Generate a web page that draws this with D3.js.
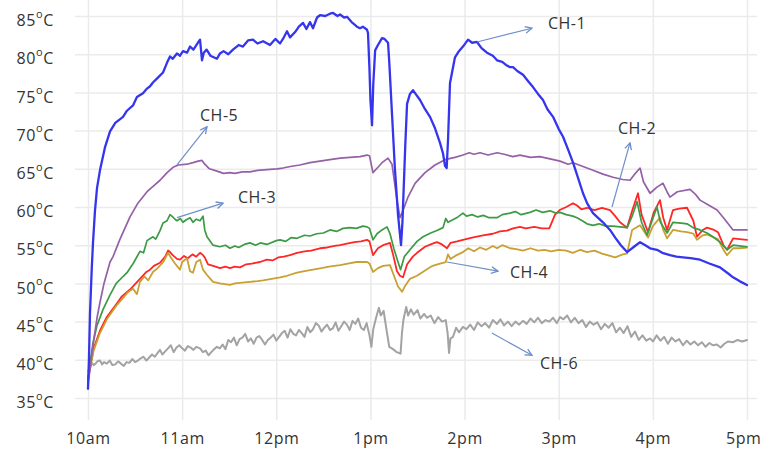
<!DOCTYPE html>
<html><head><meta charset="utf-8">
<script src="https://cdn.jsdelivr.net/npm/d3@7"></script>
<style>
html,body{margin:0;padding:0;background:#fff;}
svg{display:block;}
text{font-family:"Open Sans",sans-serif;fill:#333;}
</style></head>
<body><svg id="chart" width="762" height="451"></svg>
<script>
// ---------- data ----------
const xTickValues = [10,11,12,13,14,15,16,17];
const xTickLabels = ["10am","11am","12pm","1pm","2pm","3pm","4pm","5pm"];
const yTickValues = [35,40,45,50,55,60,65,70,75,80,85];

const ch1T = [10.000,10.010,10.021,10.040,10.053,10.074,10.096,10.127,10.180,10.234,10.290,10.372,10.414,10.478,10.520,10.584,10.627,10.659,10.690,10.740,10.797,10.840,10.871,10.900,10.945,10.977,11.009,11.052,11.084,11.120,11.168,11.190,11.211,11.230,11.260,11.300,11.370,11.402,11.440,11.490,11.540,11.600,11.646,11.700,11.753,11.800,11.860,11.933,11.990,12.040,12.071,12.114,12.146,12.200,12.240,12.284,12.320,12.358,12.390,12.433,12.464,12.520,12.571,12.603,12.650,12.677,12.720,12.751,12.800,12.857,12.889,12.920,12.964,12.974,12.990,13.000,13.017,13.030,13.050,13.080,13.123,13.150,13.187,13.200,13.230,13.260,13.293,13.325,13.340,13.370,13.389,13.420,13.452,13.480,13.527,13.580,13.633,13.686,13.739,13.771,13.792,13.810,13.825,13.845,13.898,13.940,13.983,14.037,14.080,14.132,14.180,14.238,14.300,14.345,14.400,14.440,14.483,14.515,14.560,14.621,14.680,14.727,14.780,14.833,14.880,14.940,15.000,15.046,15.100,15.152,15.200,15.258,15.301,15.364,15.407,15.470,15.545,15.600,15.660,15.726,15.800,15.864,15.920,15.970,16.044,16.100,16.182,16.250,16.320,16.400,16.501,16.600,16.713,16.800,16.852,16.920,17.000];
const ch1V = [36.2,40,46,52,55.3,59.5,62.5,64.8,67.8,69.9,71.0,71.8,72.6,73.3,74.4,74.9,75.5,75.8,76.3,76.9,77.6,78.9,79.7,79.4,80.1,79.8,80.4,80.2,81.0,80.6,81.5,81.9,79.2,80.2,80.6,79.8,79.4,80.1,80.4,80.0,80.6,81.2,81.0,81.8,81.9,81.4,81.7,81.2,82.0,81.4,82.0,83.0,82.2,82.9,83.6,84.1,83.3,84.2,83.4,84.8,85.1,85.0,85.3,85.4,85.0,85.2,84.8,84.9,84.2,83.6,83.4,83.6,83.2,82.8,78,74,70.7,76,80.5,81.2,82.1,82.0,81.5,79,72,65,59,55.0,58,68,73.5,74.8,75.3,74.8,74.0,72.8,71.8,70.3,68.4,67.0,65.4,65.1,69,76.2,79.6,80.4,81.0,81.9,81.5,81.6,80.8,80.2,79.8,79.2,79.0,78.6,78.3,78.3,77.8,77.3,76.4,75.7,74.8,74.0,72.8,71.8,70.2,69.2,67.5,65.8,64.0,61.8,60.5,59.2,58.7,58.0,57.0,56.0,55.0,54.1,54.8,55.4,55.0,54.6,54.4,54.0,53.7,53.5,53.4,53.3,53.1,52.6,52.1,51.3,50.8,50.3,49.8];

const ch5T = [10.000,10.021,10.060,10.096,10.127,10.170,10.234,10.266,10.340,10.446,10.530,10.627,10.700,10.765,10.840,10.903,10.960,11.052,11.115,11.170,11.211,11.240,11.290,11.370,11.440,11.508,11.560,11.640,11.721,11.800,11.900,12.008,12.071,12.150,12.250,12.358,12.464,12.570,12.680,12.783,12.889,12.964,12.990,13.027,13.080,13.123,13.187,13.229,13.282,13.314,13.345,13.399,13.474,13.580,13.686,13.792,13.898,13.983,14.050,14.100,14.164,14.250,14.345,14.420,14.515,14.589,14.700,14.800,14.908,15.014,15.100,15.152,15.258,15.364,15.470,15.577,15.680,15.757,15.800,15.864,15.900,15.970,16.044,16.108,16.150,16.182,16.260,16.395,16.450,16.501,16.600,16.682,16.750,16.852,16.920,17.000];
const ch5V = [36.8,38.7,42.5,45.5,47.5,50.0,52.8,53.5,55.8,58.7,60.5,62.0,62.8,63.5,64.5,65.2,65.5,65.6,65.8,66.0,66.1,65.6,65.0,64.7,64.4,64.5,64.4,64.6,64.6,64.8,64.9,65.0,65.1,65.3,65.5,65.8,66.0,66.2,66.4,66.5,66.6,66.8,66.7,64.5,65.2,65.8,66.4,65.6,60.9,58.6,59.5,61.3,63.1,64.5,65.5,66.2,66.5,66.8,67.1,66.9,67.1,66.8,67.1,66.9,66.6,66.8,66.5,66.6,66.3,66.0,65.6,65.8,65.3,64.8,64.3,63.9,63.6,63.5,64.2,65.1,63.3,61.8,62.6,63.1,62.0,61.3,62.0,62.3,61.7,60.9,60.2,59.6,58.6,57.0,57.0,57.0];

const ch3T = [10.000,10.021,10.053,10.096,10.160,10.234,10.300,10.372,10.414,10.480,10.552,10.590,10.627,10.690,10.720,10.765,10.797,10.840,10.871,10.900,10.924,10.945,10.980,11.009,11.040,11.084,11.115,11.150,11.190,11.222,11.240,11.264,11.328,11.400,11.460,11.508,11.560,11.600,11.660,11.721,11.780,11.830,11.900,12.000,12.040,12.100,12.160,12.220,12.300,12.358,12.430,12.500,12.571,12.640,12.709,12.780,12.850,12.920,12.964,12.990,13.027,13.070,13.123,13.176,13.208,13.250,13.293,13.320,13.360,13.420,13.495,13.559,13.640,13.700,13.771,13.800,13.824,13.870,13.930,13.983,14.020,14.080,14.140,14.200,14.260,14.345,14.400,14.483,14.540,14.600,14.695,14.760,14.830,14.908,14.970,15.014,15.080,15.150,15.194,15.250,15.301,15.364,15.430,15.500,15.577,15.651,15.726,15.780,15.832,15.880,15.938,16.000,16.044,16.080,16.151,16.214,16.300,16.363,16.427,16.500,16.575,16.650,16.713,16.788,16.852,16.920,17.000];
const ch3V = [37.5,39.5,42.2,44.5,46.6,48.5,50.0,50.9,51.4,52.6,54.2,54.0,55.6,56.1,55.8,56.9,57.9,58.2,59.0,58.7,58.4,58.2,58.5,58.0,58.3,58.6,58.0,58.4,58.2,58.8,57.0,56.1,55.0,54.8,55.0,54.6,54.9,54.7,55.1,55.3,55.0,55.3,55.1,55.6,55.7,55.5,56.0,55.9,56.3,56.2,56.5,56.6,57.0,56.8,57.2,57.3,57.2,57.5,57.4,57.2,55.7,56.5,57.0,57.4,56.5,54.5,52.8,51.8,53.5,54.4,55.5,56.1,56.6,56.9,57.3,58.5,58.0,58.3,58.7,59.2,58.8,59.0,58.7,58.9,58.6,58.6,59.0,59.2,59.4,59.0,59.3,59.6,59.3,59.5,59.2,59.3,59.0,58.8,58.6,58.2,57.8,57.6,57.8,57.5,57.5,57.4,57.3,58.8,60.7,58.0,56.3,58.5,60.0,58.0,56.6,58.0,57.9,57.8,57.3,57.0,56.6,56.0,55.4,54.4,55.0,54.9,54.8];

const ch2T = [10.000,10.021,10.060,10.127,10.200,10.308,10.360,10.446,10.478,10.552,10.620,10.659,10.700,10.765,10.820,10.850,10.871,10.900,10.945,10.977,11.020,11.060,11.110,11.150,11.190,11.222,11.240,11.275,11.330,11.402,11.460,11.508,11.560,11.615,11.680,11.740,11.827,11.900,11.960,12.020,12.080,12.146,12.220,12.300,12.370,12.464,12.540,12.620,12.677,12.750,12.830,12.900,12.964,12.990,13.027,13.080,13.134,13.208,13.240,13.282,13.314,13.346,13.390,13.450,13.495,13.580,13.660,13.707,13.760,13.813,13.850,13.920,13.983,14.080,14.196,14.300,14.376,14.450,14.515,14.589,14.650,14.740,14.820,14.900,14.961,15.010,15.080,15.152,15.194,15.240,15.301,15.380,15.460,15.545,15.600,15.651,15.726,15.780,15.842,15.880,15.949,16.010,16.076,16.110,16.151,16.214,16.280,16.363,16.430,16.469,16.530,16.575,16.650,16.692,16.750,16.788,16.852,16.920,17.000];
const ch2V = [37.5,39.0,41.5,43.8,45.6,47.4,48.3,49.2,49.6,50.6,51.5,51.8,52.3,52.7,53.5,54.3,54.1,53.7,53.2,53.1,53.6,53.3,53.8,53.5,54.0,53.7,53.4,52.5,52.3,52.0,52.2,52.0,52.2,52.1,52.5,52.6,52.8,53.1,53.0,53.4,53.5,53.7,54.0,54.2,54.3,54.6,54.7,54.9,55.0,55.2,55.4,55.5,55.7,55.5,53.7,54.6,55.0,55.3,53.8,51.6,51.0,50.8,52.5,53.5,54.0,54.8,55.2,55.4,55.1,54.6,55.3,55.5,55.7,56.0,56.3,56.5,56.8,56.9,57.2,57.4,57.2,57.4,57.2,57.2,59.0,59.6,60.0,60.5,60.2,59.7,59.9,59.6,59.9,59.6,58.8,58.0,57.3,59.5,61.8,59.0,56.7,59.3,60.9,58.6,57.0,59.6,59.8,59.9,58.2,56.1,57.0,57.3,57.0,56.7,55.0,54.4,55.9,55.8,55.7];

const ch4T = [10.000,10.021,10.060,10.127,10.200,10.308,10.360,10.420,10.478,10.520,10.552,10.600,10.640,10.690,10.740,10.800,10.850,10.880,10.924,10.977,11.000,11.052,11.084,11.115,11.150,11.190,11.222,11.264,11.300,11.328,11.400,11.508,11.560,11.640,11.721,11.800,11.859,11.950,12.040,12.114,12.220,12.300,12.390,12.480,12.560,12.677,12.760,12.850,12.964,12.990,13.027,13.080,13.134,13.208,13.250,13.293,13.336,13.370,13.420,13.495,13.580,13.660,13.739,13.800,13.824,13.850,13.900,13.983,14.040,14.100,14.164,14.230,14.300,14.345,14.400,14.483,14.550,14.620,14.700,14.780,14.850,14.920,15.000,15.080,15.150,15.230,15.300,15.380,15.460,15.545,15.600,15.680,15.726,15.780,15.864,15.949,16.000,16.076,16.110,16.151,16.214,16.300,16.363,16.430,16.469,16.530,16.575,16.650,16.692,16.750,16.788,16.852,16.920,17.000];
const ch4V = [37.3,38.8,41.2,43.5,45.3,47.2,47.9,48.8,49.3,48.6,50.2,50.9,50.4,51.5,52.0,52.8,54.0,53.4,52.6,51.8,52.8,53.3,51.6,51.4,52.8,53.1,51.8,51.1,50.6,50.2,50.0,49.8,50.0,50.1,50.2,50.3,50.4,50.6,50.8,51.0,51.4,51.6,51.8,52.0,52.2,52.4,52.6,52.8,52.8,52.6,51.5,52.0,52.3,52.4,51.0,49.6,48.9,49.7,50.6,51.0,51.7,52.3,52.6,52.8,53.8,53.2,53.6,54.1,54.6,54.2,54.7,54.4,54.9,54.6,55.0,54.6,54.5,54.3,54.6,54.3,54.4,54.2,54.4,54.3,54.0,54.4,54.1,54.3,53.9,53.6,53.4,53.8,53.9,57.0,57.6,56.0,57.5,58.6,57.0,55.9,57.0,56.8,56.7,56.5,55.7,56.3,56.4,56.0,55.8,54.4,53.7,54.6,54.6,54.7];

const ch6T = [10.000,10.021,10.040,10.060,10.080,10.100,10.127,10.150,10.170,10.200,10.230,10.260,10.290,10.320,10.350,10.380,10.410,10.440,10.470,10.500,10.530,10.560,10.590,10.620,10.650,10.680,10.710,10.740,10.765,10.790,10.820,10.850,10.880,10.910,10.940,10.970,11.000,11.030,11.060,11.090,11.120,11.150,11.190,11.220,11.250,11.280,11.310,11.340,11.370,11.400,11.430,11.460,11.490,11.520,11.550,11.580,11.610,11.640,11.670,11.700,11.730,11.760,11.790,11.820,11.850,11.880,11.910,11.940,11.970,12.000,12.030,12.060,12.090,12.120,12.150,12.180,12.210,12.240,12.270,12.300,12.330,12.360,12.390,12.420,12.450,12.480,12.510,12.540,12.570,12.600,12.630,12.660,12.690,12.720,12.750,12.780,12.810,12.840,12.870,12.900,12.930,12.960,12.990,13.010,13.030,13.060,13.090,13.110,13.140,13.170,13.200,13.240,13.280,13.320,13.335,13.350,13.380,13.400,13.430,13.460,13.500,13.530,13.570,13.600,13.640,13.680,13.720,13.760,13.800,13.820,13.835,13.850,13.877,13.910,13.940,13.983,14.020,14.060,14.100,14.140,14.180,14.220,14.260,14.300,14.345,14.380,14.420,14.460,14.500,14.540,14.580,14.620,14.660,14.700,14.740,14.780,14.820,14.860,14.900,14.940,14.980,15.014,15.050,15.090,15.130,15.170,15.210,15.250,15.290,15.330,15.370,15.410,15.450,15.490,15.530,15.570,15.610,15.650,15.690,15.730,15.770,15.810,15.850,15.890,15.930,15.970,16.002,16.040,16.080,16.120,16.160,16.200,16.240,16.280,16.320,16.360,16.400,16.440,16.480,16.520,16.560,16.600,16.640,16.680,16.720,16.760,16.800,16.850,16.900,16.950,17.000];
const ch6V = [38.5,38.9,39.6,39.3,39.5,39.8,39.9,39.4,39.7,39.5,39.9,39.3,39.4,39.8,39.5,39.2,39.7,39.6,40.1,39.7,39.9,40.2,40.4,39.9,40.3,40.7,40.4,40.9,41.3,40.7,41.1,41.5,41.9,41.0,41.6,41.9,41.5,41.2,41.8,41.6,41.3,41.7,41.5,41.0,41.2,40.6,41.0,41.4,41.7,41.5,42.0,41.4,42.6,42.3,42.9,41.9,42.7,42.9,43.4,42.4,42.8,42.1,42.9,43.1,42.6,42.0,42.6,42.9,43.3,42.5,43.0,43.5,43.8,42.9,44.0,43.4,43.2,43.9,43.5,43.0,44.3,43.6,44.0,44.8,44.5,43.7,44.2,44.6,43.9,44.1,44.9,43.8,44.4,45.0,44.6,43.9,45.1,44.7,45.4,44.2,43.9,44.8,43.2,41.7,44.0,45.5,46.8,45.8,46.4,44.0,41.7,41.4,41.0,40.8,43.5,45.2,46.9,45.8,46.6,45.9,46.5,45.4,46.0,45.5,45.8,44.8,45.6,45.0,45.2,43.5,40.9,42.8,43.0,44.2,43.6,44.3,44.0,44.6,43.9,44.9,44.4,44.8,44.2,45.2,44.7,45.3,44.5,45.0,44.4,45.0,44.6,45.1,44.7,45.4,44.9,45.5,44.8,45.2,45.0,45.5,44.8,45.6,45.3,45.8,44.9,45.5,44.8,45.2,44.3,45.0,44.6,44.9,44.0,44.7,44.2,44.8,43.6,44.2,43.5,44.4,43.0,43.7,42.6,43.2,42.5,42.8,42.4,43.2,42.5,43.0,42.1,42.9,42.4,42.7,41.9,42.5,42.0,42.4,41.9,42.3,41.7,42.2,41.9,42.0,41.6,42.1,42.4,42.3,42.6,42.4,42.6];

const seriesNames = ["CH-6","CH-2","CH-4","CH-3","CH-5","CH-1"];
const seriesColors = ["#a3a3a3","#ff2626","#c9a032","#3d9a45","#9560a6","#3535ee"];

// annotation: label, arrow start (hour,temp), arrow end (hour,temp), label anchor (hour,temp)
const annLabels = ["CH-1","CH-2","CH-3","CH-4","CH-5","CH-6"];
const annFrom = [[14.132,81.6],[15.566,60.0],[10.945,58.6],[13.813,52.8],[10.945,65.5],[14.29,43.5]];
const annTo   = [[14.716,83.4],[15.757,68.4],[11.434,60.5],[14.355,51.6],[11.264,70.5],[14.716,40.6]];
const annAt   = [[14.886,84.0],[15.63,70.3],[11.593,61.2],[14.483,51.5],[11.19,72.0],[14.80,39.5]];

// ---------- drawing ----------
const W = 762;
const svg = d3.select("#chart");
const x = d3.scaleLinear().domain([10,17]).range([88,747]);
const y = d3.scaleLinear().domain([35,85]).range([398,16]);

// horizontal grid + y labels
const yAxis = d3.axisLeft(y).tickValues(yTickValues).tickSize(-(757-75)).tickPadding(21);
const gy = svg.append("g").attr("transform","translate(75,0)").call(yAxis);
gy.select(".domain").remove();
gy.selectAll(".tick line").attr("stroke","#ebebeb").attr("stroke-width",1.5);
gy.selectAll(".tick text").each(function(d){
  const t = d3.select(this);
  t.text(null).attr("font-size",16).attr("font-family","'Open Sans',sans-serif").attr("fill","#333")
   .attr("dy","0.6em").attr("letter-spacing",0.6);
  t.append("tspan").text(d);
  t.append("tspan").attr("font-size",11).attr("dy","-0.75em").text("o");
  t.append("tspan").attr("dy","0.52em").text("C");
});

// vertical grid + x labels
const xAxis = d3.axisBottom(x).tickValues(xTickValues).tickFormat((d,i)=>xTickLabels[i]).tickSize(-420).tickPadding(13);
const gx = svg.append("g").attr("transform","translate(0,420)").call(xAxis);
gx.select(".domain").remove();
gx.selectAll(".tick line").attr("stroke","#ebebeb").attr("stroke-width",1.5);
gx.selectAll(".tick text").attr("font-size",16).attr("letter-spacing",0.6).attr("font-family","'Open Sans',sans-serif").attr("fill","#333");
// keep the last label inside the picture
gx.selectAll(".tick text").each(function(d){
  const bb = this.getBBox();
  const right = x(d) + bb.x + bb.width;
  if (right > W - 1) d3.select(this).attr("dx", (W - 1 - right));
});

// lines
const seriesT = {"CH-1":ch1T,"CH-2":ch2T,"CH-3":ch3T,"CH-4":ch4T,"CH-5":ch5T,"CH-6":ch6T};
const seriesV = {"CH-1":ch1V,"CH-2":ch2V,"CH-3":ch3V,"CH-4":ch4V,"CH-5":ch5V,"CH-6":ch6V};
const widths = {"CH-1":2.3,"CH-2":1.8,"CH-3":1.7,"CH-4":1.8,"CH-5":1.7,"CH-6":2.0};
const line = d3.line().x(d=>x(d[0])).y(d=>y(d[1])).curve(d3.curveLinear);
seriesNames.forEach((n,i)=>{
  const pts = seriesT[n].map((t,j)=>[t,seriesV[n][j]]);
  svg.append("path").datum(pts).attr("d",line).attr("fill","none")
    .attr("stroke",seriesColors[i]).attr("stroke-width",widths[n])
    .attr("stroke-linejoin","round").attr("stroke-linecap","round");
});

// arrows
const defs = svg.append("defs");
defs.append("marker").attr("id","ah").attr("viewBox","0 0 10 10").attr("refX",9).attr("refY",5)
  .attr("markerWidth",7).attr("markerHeight",7).attr("orient","auto")
  .append("path").attr("d","M1,1 L9,5 L1,9").attr("fill","none").attr("stroke","#6f8fca").attr("stroke-width",1.6);
annLabels.forEach((lab,i)=>{
  svg.append("line").attr("x1",x(annFrom[i][0])).attr("y1",y(annFrom[i][1]))
    .attr("x2",x(annTo[i][0])).attr("y2",y(annTo[i][1]))
    .attr("stroke","#6f8fca").attr("stroke-width",1.2).attr("marker-end","url(#ah)");
  svg.append("text").attr("x",x(annAt[i][0])).attr("y",y(annAt[i][1])).attr("dy","0.35em")
    .attr("font-size",16).attr("letter-spacing",0.5).attr("fill","#333").text(lab);
});
</script></body></html>
